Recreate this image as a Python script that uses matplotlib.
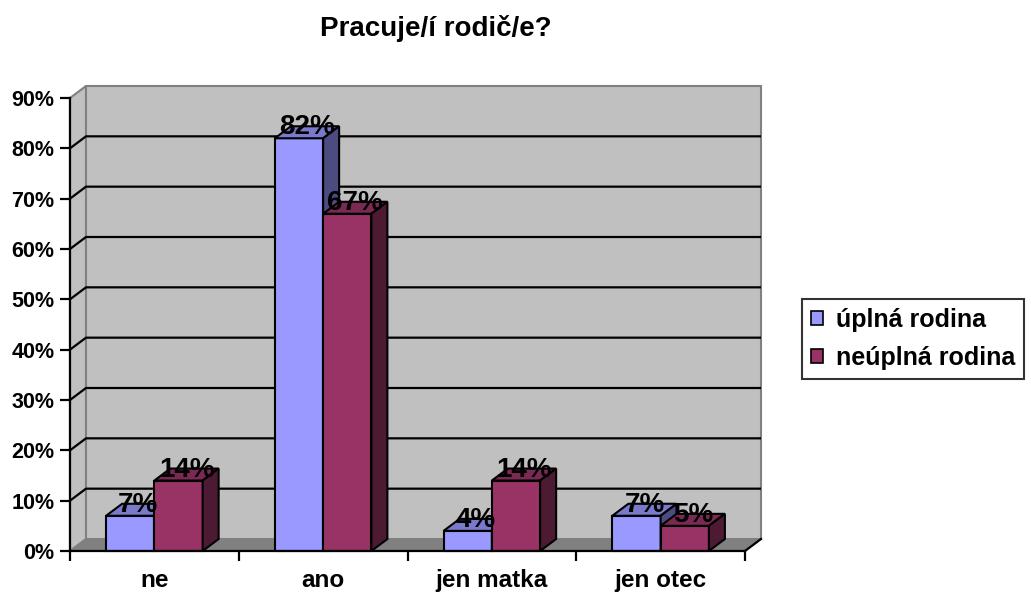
import matplotlib
matplotlib.use("Agg")
import matplotlib.pyplot as plt
from matplotlib.patches import Polygon, Patch

plt.rcParams['font.family'] = ['Liberation Sans', 'DejaVu Sans']

# data
categories = ['ne', 'ano', 'jen matka', 'jen otec']
uplna = [7, 82, 4, 7]
neuplna = [14, 67, 14, 5]
series_names = ['úplná rodina', 'neúplná rodina']

# colours (front, top, side) - Excel 3D look
blue = ('#9999FF', '#7A7ACC', '#4C4C80')
red = ('#993366', '#7A2952', '#4D1A33')

W, H = 1031, 596
fig = plt.figure(figsize=(W / 100, H / 100), dpi=100)
fig.patch.set_facecolor('white')

# front plane of the chart
ax_px = (70, 45, 675, 453)
ax = fig.add_axes([ax_px[0] / W, ax_px[1] / H, ax_px[2] / W, ax_px[3] / H])
n = len(categories)
ax.set_xlim(0, n)
ax.set_ylim(0, 90)
ax.patch.set_visible(False)

# depth of the 3D effect, in data units
DX = 16 / ax_px[2] * n
DY = 12 / ax_px[3] * 90

# walls and floor
left_wall = Polygon([(0, 0), (DX, DY), (DX, 90 + DY), (0, 90)], closed=True,
                    facecolor='#C0C0C0', edgecolor='#808080', lw=1.5, clip_on=False, zorder=0.5)
back_wall = Polygon([(DX, DY), (n + DX, DY), (n + DX, 90 + DY), (DX, 90 + DY)], closed=True,
                    facecolor='#C0C0C0', edgecolor='#808080', lw=1.5, clip_on=False, zorder=0.5)
floor = Polygon([(0, 0), (n, 0), (n + DX, DY), (DX, DY)], closed=True,
                facecolor='#808080', edgecolor='#808080', lw=1, clip_on=False, zorder=0.6)
for p in (left_wall, back_wall, floor):
    ax.add_patch(p)

# gridlines across the left wall and back wall
for v in range(10, 90, 10):
    ax.plot([0, DX, n + DX], [v, v + DY, v + DY], color='black', lw=1.6,
            clip_on=False, zorder=0.8, solid_capstyle='butt')
ax.plot([n, n + DX], [0, DY], color='black', lw=1.6, clip_on=False, zorder=0.8)


def bar3d(x0, w, v, cols):
    x1 = x0 + w
    kw = dict(closed=True, edgecolor='black', lw=1.5, clip_on=False, joinstyle='miter')
    ax.add_patch(Polygon([(x0, 0), (x1, 0), (x1, v), (x0, v)], facecolor=cols[0], zorder=2, **kw))
    ax.add_patch(Polygon([(x0, v), (x1, v), (x1 + DX, v + DY), (x0 + DX, v + DY)],
                         facecolor=cols[1], zorder=2, **kw))
    ax.add_patch(Polygon([(x1, 0), (x1, v), (x1 + DX, v + DY), (x1 + DX, DY)],
                         facecolor=cols[2], zorder=2, **kw))


bw = 0.286
for i in range(n):
    c = i + 0.5
    bar3d(c - bw, bw, uplna[i], blue)
    bar3d(c, bw, neuplna[i], red)

# data labels
for i in range(n):
    c = i + 0.5
    for xc, v in ((c - bw / 2, uplna[i]), (c + bw / 2, neuplna[i])):
        ax.text(xc + DX / 2, v + DY * 0.9, f'{v}%', ha='center', va='center',
                fontsize=20, fontweight='bold', zorder=5, clip_on=False)

# axes
for s in ('top', 'right'):
    ax.spines[s].set_visible(False)
for s in ('left', 'bottom'):
    ax.spines[s].set_linewidth(1.6)
    ax.spines[s].set_zorder(3)

ax.set_yticks(range(0, 100, 10))
ax.set_yticklabels([f'{v}%' for v in range(0, 100, 10)], fontsize=15.5, fontweight='bold')
ax.tick_params(axis='y', length=7, width=1.6, pad=4)

ax.set_xticks([i + 0.5 for i in range(n)])
ax.set_xticklabels(categories, fontsize=17.5, fontweight='bold')
ax.set_xticks(range(n + 1), minor=True)
ax.tick_params(axis='x', which='major', length=0, pad=13)
ax.tick_params(axis='x', which='minor', length=7, width=1.6)

fig.text(436 / W, 1 - 28 / H, 'Pracuje/í rodič/e?', ha='center', va='center',
         fontsize=20, fontweight='bold')

handles = [Patch(facecolor=blue[0], edgecolor='black', lw=1.2),
           Patch(facecolor=red[0], edgecolor='black', lw=1.2)]
leg = fig.legend(handles, series_names, loc='center left', bbox_to_anchor=(802 / W, 1 - 339 / H),
                 frameon=True, fancybox=False, edgecolor='black', handlelength=0.5,
                 handleheight=0.5, handletextpad=0.5, labelspacing=0.55, borderpad=0.35,
                 borderaxespad=0, prop={'size': 18, 'weight': 'bold'})
leg.get_frame().set_linewidth(1.5)

fig.savefig('out.png', dpi=100)
